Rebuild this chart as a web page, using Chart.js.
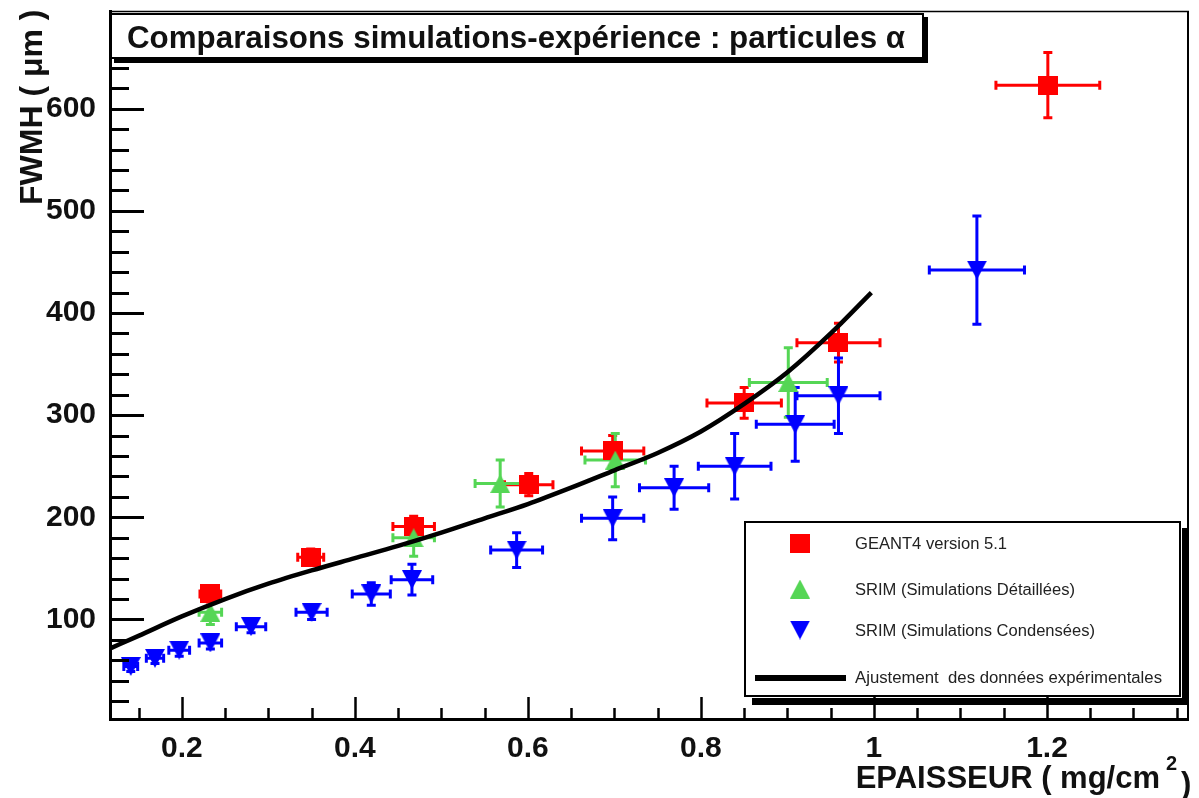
<!DOCTYPE html>
<html><head><meta charset="utf-8">
<script src="https://cdn.jsdelivr.net/npm/chart.js@4.4.1/dist/chart.umd.min.js"></script>
<style>html,body{margin:0;padding:0;background:#fff;}canvas{display:block;}</style>
</head><body>
<canvas id="c" width="1199" height="798"></canvas>
<script>
// ---- texts ----
const titleText = 'Comparaisons simulations-expérience : particules α';
const xAxisTitle = 'EPAISSEUR ( mg/cm';
const xAxisTitleSup = '2';
const xAxisTitleEnd = ')';
const yAxisTitle = 'FWMH ( μm )';
const seriesNames = ['GEANT4 version 5.1', 'SRIM (Simulations Détaillées)', 'SRIM (Simulations Condensées)', 'Ajustement  des données expérimentales'];

// ---- axes ----
const xRange = [0.117, 1.363];
const yRange = [2.6, 695.6];
const xTickValues = [0.2, 0.4, 0.6, 0.8, 1.0, 1.2];
const xTickLabels = ['0.2', '0.4', '0.6', '0.8', '1', '1.2'];
const yTickValues = [100, 200, 300, 400, 500, 600];
const yTickLabels = ['100', '200', '300', '400', '500', '600'];
const xMinorStep = 0.05;
const yMinorStep = 20;

// ---- GEANT4 ----
const geantX    = [0.233, 0.349, 0.468, 0.601, 0.698, 0.850, 0.959, 1.201];
const geantY    = [125, 161, 191, 232, 265, 312, 371, 623];
const geantXErr = [0.012, 0.015, 0.024, 0.028, 0.036, 0.043, 0.048, 0.060];
const geantYErr = [8, 8, 10, 11, 15, 15, 19, 32];

// ---- SRIM détaillées ----
const detX    = [0.233, 0.468, 0.568, 0.701, 0.901];
const detY    = [107, 180, 233, 256, 332];
const detXErr = [0.013, 0.024, 0.029, 0.035, 0.045];
const detYErr = [12, 18, 23, 26, 34];

// ---- SRIM condensées ----
const condX    = [0.141, 0.169, 0.197, 0.233, 0.280, 0.350, 0.419, 0.466, 0.587, 0.698, 0.769, 0.839, 0.909, 0.959, 1.119];
const condY    = [54, 62, 70, 77, 93, 107, 125, 139, 168, 199, 229, 250, 291, 319, 442];
const condXErr = [0.008, 0.010, 0.012, 0.013, 0.017, 0.018, 0.022, 0.024, 0.030, 0.036, 0.040, 0.042, 0.045, 0.048, 0.055];
const condYErr = [5, 5, 6, 6, 6, 7, 11, 15, 17, 21, 21, 32, 36, 37, 53];

const fitX = [0.118, 0.15, 0.2, 0.25, 0.3, 0.35, 0.4, 0.45, 0.5, 0.55, 0.6, 0.65, 0.7, 0.75, 0.8, 0.85, 0.9, 0.95, 0.997];
const fitY = [72, 84, 103, 120, 135, 148, 160, 172, 185, 199, 213, 229, 246, 263, 284, 311, 342, 380, 420];

const RED = '#ff0000', GREEN = '#55d655', BLUE = '#0000ff';
const FONT = '"Liberation Sans", Arial, Helvetica, sans-serif';

function makeMarker(shape, color) {
  const c = document.createElement('canvas');
  const w = shape === 'square' ? 20 : 20, h = 19;
  c.width = w; c.height = h;
  const g = c.getContext('2d');
  g.fillStyle = color;
  g.beginPath();
  if (shape === 'square') { g.rect(0, 0, w, h); }
  else if (shape === 'up') { g.moveTo(0, h); g.lineTo(w, h); g.lineTo(w / 2, 0); g.closePath(); }
  else { g.moveTo(0, 0); g.lineTo(w, 0); g.lineTo(w / 2, h); g.closePath(); }
  g.fill();
  return c;
}
const mkSquare = makeMarker('square', RED);
const mkUp = makeMarker('up', GREEN);
const mkDown = makeMarker('down', BLUE);

const pts = (xs, ys) => xs.map((x, i) => ({ x: x, y: ys[i] }));

function fitText(ctx, text, x, y, w, font, color, align) {
  ctx.save();
  ctx.font = font; ctx.fillStyle = color; ctx.textAlign = 'left'; ctx.textBaseline = 'alphabetic';
  const m = ctx.measureText(text).width;
  const s = w / m;
  const x0 = align === 'right' ? x - w : x;
  ctx.translate(x0, y); ctx.scale(s, 1); ctx.fillText(text, 0, 0);
  ctx.restore();
}

const errSets = [
  { xs: geantX, ys: geantY, xe: geantXErr, ye: geantYErr, color: RED },
  { xs: detX, ys: detY, xe: detXErr, ye: detYErr, color: GREEN },
  { xs: condX, ys: condY, xe: condXErr, ye: condYErr, color: BLUE }
];

const decor = {
  id: 'decor',
  beforeDatasetsDraw(chart) {
    const ctx = chart.ctx, xs = chart.scales.x, ys = chart.scales.y;
    ctx.save();
    ctx.lineWidth = 3; ctx.lineCap = 'butt';
    const cap = 4.5;
    errSets.forEach(s => {
      ctx.strokeStyle = s.color;
      s.xs.forEach((xv, i) => {
        const px = xs.getPixelForValue(xv), py = ys.getPixelForValue(s.ys[i]);
        const x1 = xs.getPixelForValue(xv - s.xe[i]), x2 = xs.getPixelForValue(xv + s.xe[i]);
        const y1 = ys.getPixelForValue(s.ys[i] + s.ye[i]), y2 = ys.getPixelForValue(s.ys[i] - s.ye[i]);
        ctx.beginPath();
        ctx.moveTo(x1, py); ctx.lineTo(x2, py);
        ctx.moveTo(px, y1); ctx.lineTo(px, y2);
        ctx.moveTo(x1, py - cap); ctx.lineTo(x1, py + cap);
        ctx.moveTo(x2, py - cap); ctx.lineTo(x2, py + cap);
        ctx.moveTo(px - cap, y1); ctx.lineTo(px + cap, y1);
        ctx.moveTo(px - cap, y2); ctx.lineTo(px + cap, y2);
        ctx.stroke();
      });
    });
    ctx.restore();
  },
  afterDatasetsDraw(chart) {
    const ctx = chart.ctx, xs = chart.scales.x, ys = chart.scales.y, a = chart.chartArea;
    ctx.save();
    ctx.strokeStyle = '#000';
    // inward ticks, y axis
    for (let k = 1; k * yMinorStep < yRange[1]; k++) {
      const v = k * yMinorStep;
      if (v < yRange[0]) continue;
      const major = yTickValues.indexOf(v) >= 0;
      const py = Math.round(ys.getPixelForValue(v)) + 0.5;
      ctx.lineWidth = 3;
      ctx.beginPath(); ctx.moveTo(a.left, py); ctx.lineTo(a.left + (major ? 34 : 19), py); ctx.stroke();
    }
    // inward ticks, x axis
    for (let k = 1; k * xMinorStep < xRange[1]; k++) {
      const v = Math.round(k * xMinorStep * 100) / 100;
      if (v < xRange[0]) continue;
      const major = xTickValues.some(t => Math.abs(t - v) < 1e-6);
      const px = Math.round(xs.getPixelForValue(v)) + 0.5;
      ctx.lineWidth = 2.5;
      ctx.beginPath(); ctx.moveTo(px, a.bottom); ctx.lineTo(px, a.bottom - (major ? 22 : 11)); ctx.stroke();
    }
    // top & right frame
    ctx.lineWidth = 1.5;
    ctx.beginPath(); ctx.moveTo(a.left, a.top + 0.5); ctx.lineTo(a.right + 1, a.top + 0.5); ctx.stroke();
    ctx.lineWidth = 2;
    ctx.beginPath(); ctx.moveTo(a.right, a.top); ctx.lineTo(a.right, a.bottom); ctx.stroke();

    // title box
    ctx.fillStyle = '#000';
    ctx.fillRect(114, 58, 814, 5);
    ctx.fillRect(923, 17, 5, 46);
    ctx.fillStyle = '#fff';
    ctx.fillRect(111, 14, 812, 44);
    ctx.lineWidth = 2; ctx.strokeStyle = '#000';
    ctx.strokeRect(111, 14, 812, 44);
    fitText(ctx, titleText, 127, 48, 778, 'bold 32px ' + FONT, '#111', 'left');

    // legend box
    ctx.fillStyle = '#000';
    ctx.fillRect(1182, 528, 6, 177);
    ctx.fillRect(752, 698, 436, 7);
    ctx.fillStyle = '#fff';
    ctx.fillRect(745, 522, 435, 174);
    ctx.lineWidth = 2; ctx.strokeStyle = '#000';
    ctx.strokeRect(745, 522, 435, 174);
    ctx.drawImage(mkSquare, 800 - 10, 543 - 9.5);
    ctx.drawImage(mkUp, 800 - 10, 589 - 9.5);
    ctx.drawImage(mkDown, 800 - 10, 630 - 9.5);
    ctx.lineWidth = 6; ctx.strokeStyle = '#000';
    ctx.beginPath(); ctx.moveTo(755, 678); ctx.lineTo(846, 678); ctx.stroke();
    const lf = '16px ' + FONT;
    fitText(ctx, seriesNames[0], 855, 549, 152, lf, '#222', 'left');
    fitText(ctx, seriesNames[1], 855, 595, 220, lf, '#222', 'left');
    fitText(ctx, seriesNames[2], 855, 636, 240, lf, '#222', 'left');
    fitText(ctx, seriesNames[3], 855, 683, 307, lf, '#222', 'left');

    // x axis title
    ctx.fillStyle = '#111';
    ctx.textBaseline = 'alphabetic';
    ctx.font = 'bold 31px ' + FONT;
    ctx.textAlign = 'right';
    ctx.fillText(xAxisTitle, 1160, 788);
    ctx.textAlign = 'left';
    ctx.font = 'bold 20px ' + FONT;
    ctx.fillText(xAxisTitleSup, 1166, 770);
    ctx.font = 'bold 31px ' + FONT;
    ctx.fillText(xAxisTitleEnd, 1181, 794);

    // y axis title
    ctx.save();
    ctx.translate(42, 205);
    ctx.rotate(-Math.PI / 2);
    ctx.font = 'bold 32px ' + FONT;
    ctx.textAlign = 'left';
    ctx.fillText(yAxisTitle, 0, 0);
    ctx.restore();

    ctx.restore();
  }
};

const tickFont = { family: FONT, weight: 'bold', size: 30 };

new Chart(document.getElementById('c'), {
  type: 'scatter',
  data: {
    datasets: [
      { label: seriesNames[0], data: pts(geantX, geantY), pointStyle: mkSquare, pointRadius: 10, order: 3 },
      { label: seriesNames[1], data: pts(detX, detY), pointStyle: mkUp, pointRadius: 10, order: 2 },
      { label: seriesNames[2], data: pts(condX, condY), pointStyle: mkDown, pointRadius: 10, order: 1 },
      { type: 'line', label: seriesNames[3], data: pts(fitX, fitY), borderColor: '#000', borderWidth: 4.5,
        pointRadius: 0, showLine: true, fill: false, cubicInterpolationMode: 'monotone', order: 0 }
    ]
  },
  options: {
    responsive: false,
    animation: false,
    devicePixelRatio: 1,
    layout: { padding: { top: 10, right: 9, left: 0, bottom: 0 } },
    plugins: { legend: { display: false }, tooltip: { enabled: false }, title: { display: false } },
    scales: {
      x: {
        type: 'linear', min: xRange[0], max: xRange[1],
        afterBuildTicks: s => { s.ticks = xTickValues.map(v => ({ value: v })); },
        afterFit: s => { s.height = 79; s.paddingLeft = 0; s.paddingRight = 0; },
        grid: { display: false },
        border: { display: true, width: 3, color: '#000' },
        ticks: { autoSkip: false, maxRotation: 0, minRotation: 0, padding: 4, color: '#111', font: tickFont,
          callback: v => { const i = xTickValues.findIndex(t => Math.abs(t - v) < 1e-9); return i >= 0 ? xTickLabels[i] : ''; } }
      },
      y: {
        type: 'linear', min: yRange[0], max: yRange[1],
        afterBuildTicks: s => { s.ticks = yTickValues.map(v => ({ value: v })); },
        afterFit: s => { s.width = 110; s.paddingTop = 0; s.paddingBottom = 0; },
        grid: { display: false },
        border: { display: true, width: 3, color: '#000' },
        ticks: { autoSkip: false, padding: 6, color: '#111', font: tickFont,
          callback: v => { const i = yTickValues.indexOf(v); return i >= 0 ? yTickLabels[i] : ''; } }
      }
    }
  },
  plugins: [decor]
});
</script>
</body></html>
